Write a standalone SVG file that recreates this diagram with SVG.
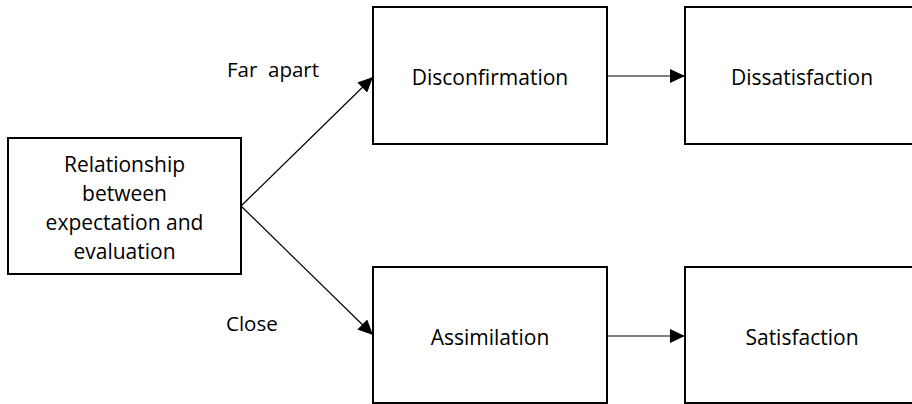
<svg xmlns="http://www.w3.org/2000/svg" width="912" height="404" viewBox="0 0 912 404">
<style>
.box{fill:#fff;stroke:#000;stroke-width:2}
.t{font-family:"Open Sans","Noto Sans",sans-serif;font-size:21px;fill:#000;text-anchor:middle}
.l{font-family:"Open Sans","Noto Sans",sans-serif;font-size:20.5px;fill:#000}
.c{stroke:#000;stroke-width:1.2;fill:none;marker-end:url(#ah)}
</style>
<defs>
<marker id="ah" markerUnits="userSpaceOnUse" markerWidth="16" markerHeight="14" refX="15" refY="7" orient="auto" viewBox="0 0 16 14">
<path d="M0,0 L15,7 L0,14 z" fill="#000"/>
</marker>
</defs>
<g id="connectors">
<line class="c" x1="241" y1="206" x2="373" y2="77"/>
<line class="c" x1="241" y1="206" x2="373" y2="335"/>
<line class="c" x1="607" y1="76" x2="685" y2="76"/>
<line class="c" x1="607" y1="336" x2="685" y2="336"/>
</g>
<g id="relationship">
<rect class="box" x="8" y="138" width="233" height="136"/>
<text class="t" x="124.5" y="172">Relationship</text>
<text class="t" x="124.5" y="201">between</text>
<text class="t" x="124.5" y="230">expectation and</text>
<text class="t" x="124.5" y="259">evaluation</text>
</g>
<g id="disconfirmation">
<rect class="box" x="373" y="7" width="234" height="137"/>
<text class="t" x="490" y="85">Disconfirmation</text>
</g>
<g id="dissatisfaction">
<rect class="box" x="685" y="7" width="234" height="137"/>
<text class="t" x="802" y="85">Dissatisfaction</text>
</g>
<g id="assimilation">
<rect class="box" x="373" y="267" width="234" height="136"/>
<text class="t" x="490" y="345">Assimilation</text>
</g>
<g id="satisfaction">
<rect class="box" x="685" y="267" width="234" height="136"/>
<text class="t" x="802" y="345">Satisfaction</text>
</g>
<g id="labels">
<text class="l" x="227" y="77" xml:space="preserve">Far  apart</text>
<text class="l" x="226" y="331">Close</text>
</g>
</svg>
